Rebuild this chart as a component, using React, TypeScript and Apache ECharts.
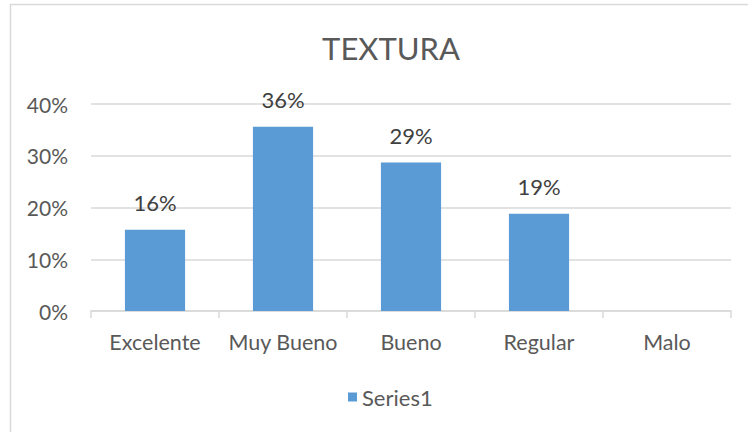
import React, { useEffect, useRef } from "react";
import * as echarts from "echarts";

const categories = ["Excelente", "Muy Bueno", "Bueno", "Regular", "Malo"];
const values: (number | null)[] = [0.157, 0.356, 0.287, 0.188, null];
const seriesName = "Series1";
const chartTitle = "TEXTURA";

const FONT = "Lato, 'Noto Sans', sans-serif";
const TEXT = "#595959";

export default function App() {
  const ref = useRef<HTMLDivElement>(null);
  useEffect(() => {
    const chart = echarts.init(ref.current!, null, { renderer: "svg" });
    chart.setOption({
      animation: false,
      backgroundColor: "#fff",
      textStyle: { fontFamily: FONT },
      title: {
        text: chartTitle,
        left: 386,
        top: 27,
        textAlign: "center",
        textStyle: { fontFamily: FONT, fontSize: 31, fontWeight: "normal", color: TEXT },
      },
      graphic: [
        {
          type: "rect",
          shape: { x: 10.5, y: 4.5, width: 760, height: 440 },
          style: { fill: "none", stroke: "#D9D9D9", lineWidth: 1.5 },
          silent: true,
        },
      ],
      legend: {
        data: [seriesName],
        left: 343,
        top: 381,
        icon: "rect",
        itemWidth: 9,
        itemHeight: 9,
        itemGap: 6,
        textStyle: { fontFamily: FONT, fontSize: 22, color: TEXT },
      },
      grid: { left: 91, right: 17, top: 104, bottom: 121 },
      xAxis: {
        type: "category",
        data: categories,
        axisLine: { lineStyle: { color: "#D9D9D9", width: 1.5 } },
        axisTick: { show: true, length: 7, lineStyle: { color: "#D9D9D9", width: 1.5 } },
        axisLabel: { fontFamily: FONT, fontSize: 21.5, color: TEXT, margin: 20, interval: 0, hideOverlap: false },
      },
      yAxis: {
        type: "value",
        min: 0,
        max: 0.4,
        interval: 0.1,
        axisLine: { show: false },
        axisTick: { show: false },
        splitLine: { lineStyle: { color: "#D9D9D9", width: 1.5 } },
        axisLabel: {
          fontFamily: FONT,
          fontSize: 21,
          color: TEXT,
          margin: 23,
          formatter: (v: number) => Math.round(v * 100) + "%",
        },
      },
      series: [
        {
          name: seriesName,
          type: "bar",
          data: values,
          barWidth: "47%",
          itemStyle: { color: "#5B9BD5" },
          label: {
            show: true,
            position: "top",
            distance: 16,
            fontFamily: FONT,
            fontSize: 22,
            color: "#404040",
            formatter: (p: any) => Math.round(p.value * 100) + "%",
          },
        },
      ],
    });
    return () => chart.dispose();
  }, []);
  return (
    <div
      ref={ref}
      style={{ position: "fixed", left: 0, top: 0, width: 748, height: 432 }}
    />
  );
}
